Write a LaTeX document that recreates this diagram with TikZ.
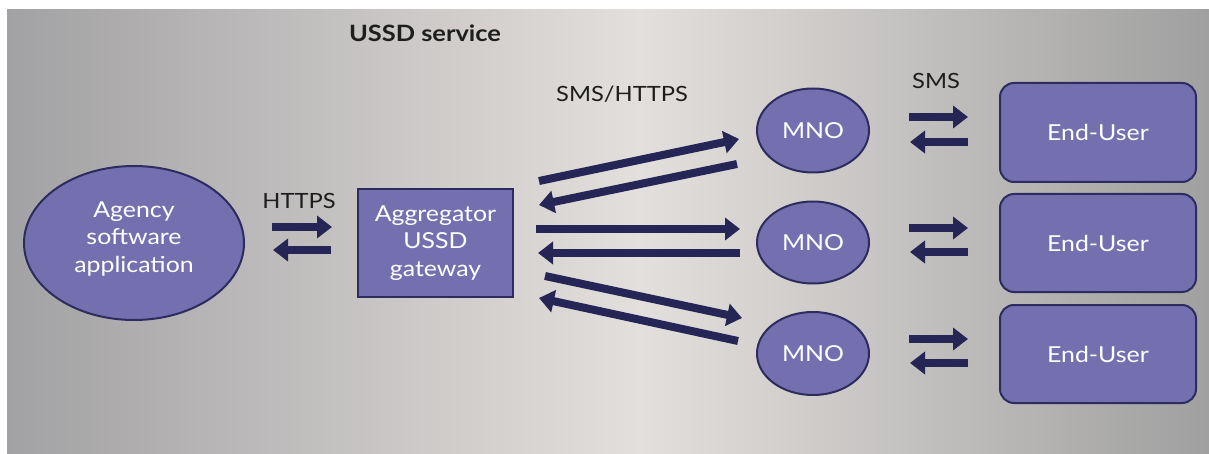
\documentclass[tikz,border=0pt]{standalone}
\usepackage{fontspec}
\setmainfont{Lato}[FakeStretch=1.13]
\usetikzlibrary{arrows.meta,shapes.geometric}

\definecolor{boxfill}{RGB}{116,112,176}
\definecolor{boxline}{RGB}{44,44,94}
\definecolor{arrowcol}{RGB}{38,38,86}
\definecolor{bgedge}{RGB}{162,161,163}
\definecolor{bgmid}{RGB}{227,223,220}
\definecolor{bgright}{RGB}{160,160,160}
\definecolor{labelcol}{RGB}{30,30,30}

\tikzset{
  entity/.style={fill=boxfill, draw=boxline, line width=2pt, text=white,
    font=\fontsize{22}{27.5}\selectfont, align=center, inner sep=0pt},
  oval/.style={entity, ellipse},
  gatebox/.style={entity, rectangle},
  userbox/.style={entity, rectangle, rounded corners=14pt},
  whitetext/.style={text=white, font=\fontsize{22}{27.5}\selectfont, align=center, inner sep=0pt},
  flow/.style={draw=arrowcol, fill=arrowcol, line width=8pt,
    -{Triangle[length=15pt,width=22pt]}},
  caption/.style={text=labelcol, font=\fontsize{21}{25}\selectfont, anchor=base, inner sep=0pt},
  heading/.style={text=labelcol, font=\fontsize{22.5}{27}\selectfont\bfseries, anchor=base, inner sep=0pt},
}

\begin{document}
\begin{tikzpicture}[x=1pt,y=-1pt]
\useasboundingbox (0,0) rectangle (1209,454);
\fill[white] (0,0) rectangle (1209,454);

% grey backdrop, lightest towards the middle
\shade[left color=bgedge, right color=bgmid] (7,10) rectangle (640,453);
\shade[left color=bgmid, right color=bgright] (639.5,10) rectangle (1209,453);

% labels
\node[heading] (title) at (425,42) {USSD service};
\node[caption] (lhttps) at (299,209) {HTTPS};
\node[caption] (lsmshttps) at (622,102) {SMS/HTTPS};
\node[caption] (lsms) at (936,89) {SMS};

% entities
\node[oval, minimum width=220pt, minimum height=154pt] (agency) at (134,243) {};
\node[whitetext] (agencytext) at ([yshift=4pt]agency.center) {Agency\\software\\application};

\node[gatebox, minimum width=155pt, minimum height=108pt] (gw) at (435.5,243) {Aggregator\\USSD\\gateway};

\node[oval, minimum width=112pt, minimum height=84pt] (mno1) at (813,130.5) {MNO};
\node[oval, minimum width=112pt, minimum height=82pt] (mno2) at (813,242.5) {MNO};
\node[oval, minimum width=112pt, minimum height=83pt] (mno3) at (813,353.5) {MNO};

\node[userbox, minimum width=196pt, minimum height=99pt] (eu1) at (1098,132.5) {End-User};
\node[userbox, minimum width=196pt, minimum height=98pt] (eu2) at (1098,243) {End-User};
\node[userbox, minimum width=196pt, minimum height=98pt] (eu3) at (1098,354) {End-User};

% arrow end points
\coordinate (ha1) at (272,227);  \coordinate (ha2) at (332,227);
\coordinate (hb1) at (331,250);  \coordinate (hb2) at (273,250);

\coordinate (ra1) at (539,181);  \coordinate (ra2) at (739,139);
\coordinate (la1) at (737,164);  \coordinate (la2) at (539,205);
\coordinate (rb1) at (536,229);  \coordinate (rb2) at (740,229);
\coordinate (lb1) at (740,253);  \coordinate (lb2) at (538,253);
\coordinate (rc1) at (545,276);  \coordinate (rc2) at (742,318);
\coordinate (lc1) at (738,341);  \coordinate (lc2) at (539,298);

\coordinate (sa1) at (909,117);  \coordinate (sa2) at (968,117);
\coordinate (ta1) at (968,142);  \coordinate (ta2) at (910,142);
\coordinate (sb1) at (909,228);  \coordinate (sb2) at (968,228);
\coordinate (tb1) at (968,252);  \coordinate (tb2) at (910,252);
\coordinate (sc1) at (909,339);  \coordinate (sc2) at (968,339);
\coordinate (tc1) at (968,363);  \coordinate (tc2) at (910,363);

% agency <-> gateway
\draw[flow] (ha1) -- (ha2);
\draw[flow] (hb1) -- (hb2);

% gateway <-> operators
\draw[flow] (ra1) -- (ra2);
\draw[flow] (la1) -- (la2);
\draw[flow] (rb1) -- (rb2);
\draw[flow] (lb1) -- (lb2);
\draw[flow] (rc1) -- (rc2);
\draw[flow] (lc1) -- (lc2);

% operators <-> end users
\draw[flow] (sa1) -- (sa2);
\draw[flow] (ta1) -- (ta2);
\draw[flow] (sb1) -- (sb2);
\draw[flow] (tb1) -- (tb2);
\draw[flow] (sc1) -- (sc2);
\draw[flow] (tc1) -- (tc2);
\end{tikzpicture}
\end{document}
